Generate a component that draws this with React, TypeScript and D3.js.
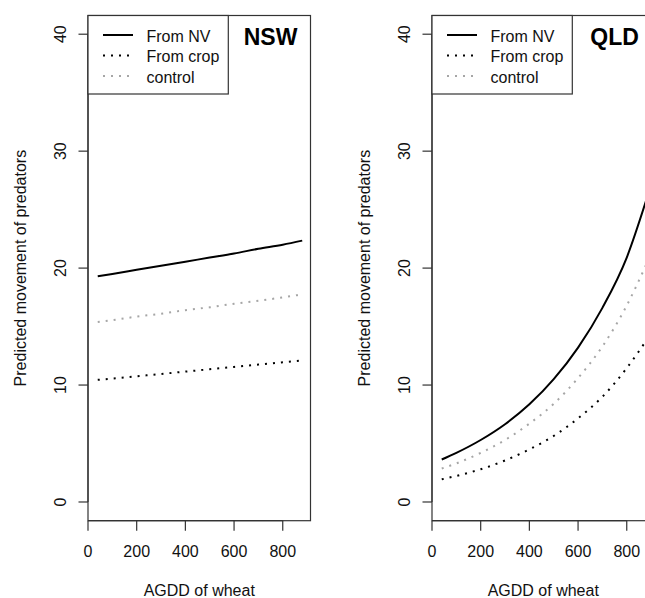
import React from "react";
import * as d3 from "d3";

const agdd = [40, 100, 200, 300, 400, 500, 600, 700, 800, 880];

const nswFromNV = [19.3, 19.5, 19.85, 20.2, 20.55, 20.9, 21.25, 21.65, 22.0, 22.35];
const nswFromCrop = [10.45, 10.55, 10.75, 10.95, 11.15, 11.35, 11.55, 11.75, 11.95, 12.1];
const nswControl = [15.4, 15.55, 15.85, 16.1, 16.4, 16.65, 16.95, 17.2, 17.5, 17.75];

const qldFromNV = [3.63, 4.2, 5.3, 6.65, 8.35, 10.5, 13.2, 16.6, 20.9, 25.8];
const qldFromCrop = [1.94, 2.23, 2.8, 3.55, 4.5, 5.65, 7.15, 9.0, 11.45, 13.8];
const qldControl = [2.86, 3.3, 4.2, 5.3, 6.7, 8.4, 10.6, 13.3, 16.8, 20.3];

const xTicks = [0, 200, 400, 600, 800];
const yTicks = [0, 10, 20, 30, 40];
const legendLabels = ["From NV", "From crop", "control"];
const panelTitles = ["NSW", "QLD"];

const FONT = "'Liberation Sans', Arial, Helvetica, sans-serif";
const TEXT = "#111";
const FRAME = "#333";

const seriesStyles = [
  { stroke: "#000", dash: undefined as string | undefined },
  { stroke: "#000", dash: "2 6" },
  { stroke: "#a6a6a6", dash: "2 6" },
];

const W = 645;
const H = 598;

const top = 15.5;
const bottom = 520.7;
const plotW = 222.5;

function Panel({ left, title, series }: { left: number; title: string; series: number[][] }) {
  const x = d3.scaleLinear().domain([0, 914]).range([left, left + plotW]);
  const y = d3.scaleLinear().domain([-1.6, 41.6]).range([bottom, top]);
  const line = d3
    .line<[number, number]>()
    .x((d) => x(d[0]))
    .y((d) => y(d[1]))
    .curve(d3.curveMonotoneX);

  const tick = 9.5;
  const legRight = left + 140.3;
  const legBottom = 94;
  const rowLineY = [35, 55.5, 76];
  const rowBase = [41.5, 62, 82.5];

  return (
    <g>
      {/* series */}
      {series.map((vals, i) => (
        <path
          key={i}
          d={line(agdd.map((a, j) => [a, vals[j]] as [number, number])) || ""}
          fill="none"
          stroke={seriesStyles[i].stroke}
          strokeWidth={2}
          strokeDasharray={seriesStyles[i].dash}
          strokeLinecap="butt"
        />
      ))}
      {/* frame */}
      <rect x={left} y={top} width={plotW} height={bottom - top} fill="none" stroke={FRAME} strokeWidth={1.2} />
      {/* y axis */}
      <line x1={left} x2={left} y1={y(0)} y2={y(40)} stroke={FRAME} strokeWidth={1.2} />
      {yTicks.map((t) => (
        <g key={t}>
          <line x1={left - tick} x2={left} y1={y(t)} y2={y(t)} stroke={FRAME} strokeWidth={1.2} />
          <text
            transform={`translate(${left - 22},${y(t)}) rotate(-90)`}
            textAnchor="middle"
            fontSize={16}
            fontFamily={FONT}
            fill={TEXT}
          >
            {t}
          </text>
        </g>
      ))}
      {/* x axis */}
      <line x1={x(0)} x2={x(800)} y1={bottom} y2={bottom} stroke={FRAME} strokeWidth={1.2} />
      {xTicks.map((t) => (
        <g key={t}>
          <line x1={x(t)} x2={x(t)} y1={bottom} y2={bottom + tick + 0.5} stroke={FRAME} strokeWidth={1.2} />
          <text x={x(t)} y={557} textAnchor="middle" fontSize={16} fontFamily={FONT} fill={TEXT}>
            {t}
          </text>
        </g>
      ))}
      {/* axis titles */}
      <text x={left + plotW / 2} y={596} textAnchor="middle" fontSize={16} fontFamily={FONT} fill={TEXT}>
        AGDD of wheat
      </text>
      <text
        transform={`translate(${left - 62},${(top + bottom) / 2}) rotate(-90)`}
        textAnchor="middle"
        fontSize={16}
        fontFamily={FONT}
        fill={TEXT}
      >
        Predicted movement of predators
      </text>
      {/* legend */}
      <rect x={left} y={top} width={legRight - left} height={legBottom - top} fill="#fff" stroke={FRAME} strokeWidth={1.2} />
      {legendLabels.map((lab, i) => (
        <g key={lab}>
          <line
            x1={left + 15}
            x2={left + 45}
            y1={rowLineY[i]}
            y2={rowLineY[i]}
            stroke={seriesStyles[i].stroke}
            strokeWidth={2}
            strokeDasharray={seriesStyles[i].dash}
          />
          <text x={left + 58.5} y={rowBase[i]} fontSize={16} fontFamily={FONT} fill={TEXT}>
            {lab}
          </text>
        </g>
      ))}
      {/* panel title */}
      <text
        x={x(750)}
        y={44.5}
        textAnchor="middle"
        fontSize={23}
        fontWeight="bold"
        fontFamily={FONT}
        fill="#000"
      >
        {title}
      </text>
    </g>
  );
}

export default function App() {
  return (
    <svg
      width={W}
      height={H}
      viewBox={`0 0 ${W} ${H}`}
      style={{ position: "absolute", left: 0, top: 0, background: "#fff" }}
    >
      <rect x={0} y={0} width={W} height={H} fill="#fff" />
      <Panel left={88} title={panelTitles[0]} series={[nswFromNV, nswFromCrop, nswControl]} />
      <Panel left={432} title={panelTitles[1]} series={[qldFromNV, qldFromCrop, qldControl]} />
    </svg>
  );
}
